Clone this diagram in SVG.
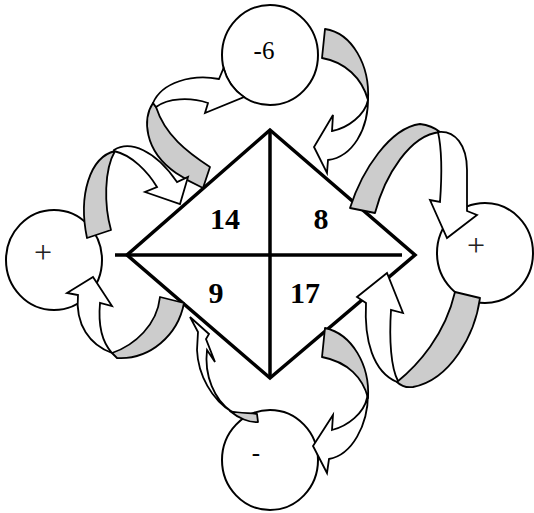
<svg xmlns="http://www.w3.org/2000/svg" width="534" height="513" viewBox="0 0 534 513">
<style>
.edge{fill:none;stroke:#000;stroke-width:3.5;stroke-linejoin:miter}
.node{fill:#fff;stroke:#000;stroke-width:2}
.num{font-family:"Liberation Serif",serif;font-weight:bold;font-size:30px;text-anchor:middle}
.op{font-family:"Liberation Serif",serif;font-size:25px;text-anchor:middle}
.plus{font-family:"Liberation Serif",serif;font-size:32px;text-anchor:middle;fill:#222}
.back{fill:#cccccc;stroke:#000;stroke-width:1.8;stroke-linejoin:round}
.front{fill:#fff;stroke:#000;stroke-width:1.8;stroke-linejoin:miter}
</style>
<rect width="534" height="513" fill="#fff"/>
<g id="diamond">
<polygon class="edge" points="270,130 415,255 270,378 127,255"/>
<line class="edge" x1="115" y1="255" x2="402" y2="255"/>
<line class="edge" x1="270" y1="130" x2="270" y2="378"/>
<text class="num" x="225" y="228.5">14</text>
<text class="num" x="321" y="228.5">8</text>
<text class="num" x="216" y="303">9</text>
<text class="num" x="305" y="303">17</text>
</g>
<g id="circle-top">
<ellipse class="node" cx="270" cy="55" rx="48" ry="50"/>
<text class="op" x="264" y="59">-6</text>
</g>
<g id="circle-left">
<ellipse class="node" cx="54" cy="260" rx="48" ry="50"/>
<text class="plus" x="43" y="263">+</text>
</g>
<g id="circle-right">
<ellipse class="node" cx="485" cy="253" rx="48" ry="50"/>
<text class="plus" x="476" y="256">+</text>
</g>
<g id="circle-bottom">
<ellipse class="node" cx="270" cy="460" rx="48" ry="50"/>
<text class="op" x="256" y="461">-</text>
</g>
<g id="connectors">
<g id="arrow-diamond-to-top">
<path class="back" d="M203,188 L210,167 C187,152 165,135 156,107 L153,103 C143,118 143,150 176,173 C185,179 194,184 203,188 Z"/>
<path class="front" d="M153,103 C162,82 192,74 219,79 L223.6,68 A48 50 0 0 0 244,97 L205,113 L208,103 C190,97 168,98 156,107 Z"/>
</g>
<g id="arrow-top-to-diamond">
<path class="back" d="M325,29 C352,33 370,65 368,100 C362,78 345,62 322,58 Z"/>
<path class="front" d="M368,96 C369,130 352,157 328,160 L327,173 L314,147 L333,115 L332,131 C348,128 365,115 368,100 Z"/>
</g>
<g id="arrow-left-to-diamond">
<path class="back" d="M87,238 L111,230 C104,205 104,170 115,151 C90,157 78,195 87,238 Z"/>
<path class="front" d="M114,150 C130,140 155,150 177,182 L188,177 L180,204 L145,192 L157,187 C148,172 132,155 114,151 Z"/>
</g>
<g id="arrow-diamond-to-left">
<path class="front" d="M112,353 C90,345 75,325 78,295 L67,293 L93,277 L112,306 L100,303 C98,325 102,342 112,353 Z"/>
<path class="back" d="M160,297 L184,303 C178,335 150,360 117,358 L112,353 C135,345 157,325 160,297 Z"/>
</g>
<g id="arrow-diamond-to-right">
<path class="back" d="M350,208 C362,170 390,128 420,124 C428,125 435,128 440,132 C410,135 385,175 375,213 Z"/>
<path class="front" d="M438,132 C455,130 467,145 467,170 L467,211 L477,215 L447,238 L430,200 L440,202 C442,175 442,150 438,132 Z"/>
</g>
<g id="arrow-right-to-diamond">
<path class="front" d="M397,382 C373,372 364,340 366,303 L357,297 L387,273 L403,313 L391,310 C389,340 391,368 398,381 Z"/>
<path class="back" d="M455,292 L480,298 C475,335 450,380 413,387 C405,388 400,385 397,382 C418,365 445,335 455,292 Z"/>
</g>
<g id="arrow-diamond-to-bottom">
<path class="back" d="M325,328 C352,334 370,365 368,398 C363,378 348,362 322,357 Z"/>
<path class="front" d="M368,394 C368,425 352,455 329,459 L327,473 L313,446 L333,415 L332,430 C348,426 364,413 367,398 Z"/>
</g>
<g id="arrow-bottom-to-diamond">
<path class="front" d="M190,317 L209,334 L206,339 L215,362 L207,350 C204,375 214,400 232,412 C212,400 198,375 197,350 L198,332 Z"/>
<path class="back" d="M230,411 C238,413 248,413 257,414 L258,422 C250,423 238,418 230,411 Z"/>
</g>
</g>
</svg>
